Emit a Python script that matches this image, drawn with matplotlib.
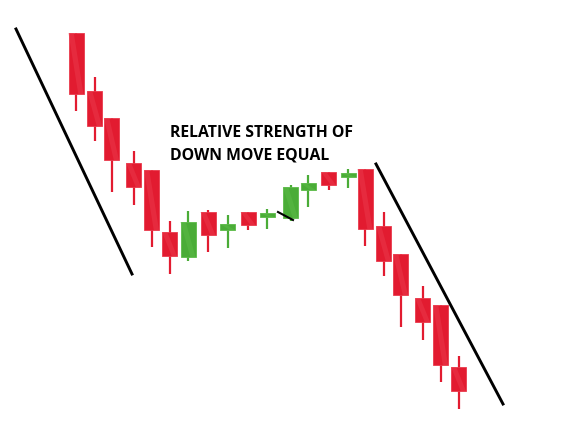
import matplotlib
matplotlib.use('Agg')
import matplotlib.pyplot as plt
from matplotlib.patches import Rectangle, Polygon

# candle data (time position, open, high, low, close)
t = [76, 94.5, 111.5, 133.5, 151.5, 169.5, 188, 208, 227.5, 248, 267,
     290.5, 308, 328.5, 348, 365, 383.5, 400.5, 422.5, 440.5, 458.5]
opens = [388, 330, 303, 258, 251, 189, 164, 209, 191, 209, 204,
         203, 231, 249, 244, 252, 195, 167, 123, 116, 54]
highs = [388, 344, 303, 270, 251, 200, 210, 211, 206, 209, 212,
         236, 246, 249, 252, 252, 209, 167, 135, 116, 65]
lows = [310, 280, 229, 216, 174, 147, 160, 169, 173, 191, 192,
        200, 214, 231, 233, 175, 145, 94, 81, 39, 12]
closes = [327, 295, 261, 234, 191, 165, 199, 186, 197, 196, 208,
          234, 238, 236, 248, 192, 160, 126, 99, 56, 30]

# trend lines
trend_left = ([16, 132], [392, 147])
trend_right = ([376, 503], [257, 17])
dash = ([278, 293], [209, 201])

red = '#e21b30'
red_light = '#ea3a4c'
green = '#4aac37'
green_light = '#5cbb48'

fig = plt.figure(figsize=(5.65, 4.21), dpi=100)
ax = fig.add_axes([0, 0, 1, 1])
ax.set_xlim(0, 565)
ax.set_ylim(0, 421)
ax.axis('off')

w = 15
for x, o, h, l, c in zip(t, opens, highs, lows, closes):
    up = c >= o
    col = green if up else red
    light = green_light if up else red_light
    ax.plot([x, x], [l, h], color=col, lw=1.6, solid_capstyle='butt', zorder=2)
    lo, hi = min(o, c), max(o, c)
    hgt = max(hi - lo, 3)
    ax.add_patch(Rectangle((x - w / 2, lo), w, hgt, facecolor=col,
                           edgecolor=light, lw=0.6, zorder=3))
    ax.add_patch(Polygon([(x - w / 2, lo + hgt), (x - w / 2 + w * 0.35, lo + hgt),
                          (x + w / 2, lo), (x + w / 2 - w * 0.35, lo)],
                         closed=True, facecolor=light, edgecolor='none',
                         alpha=0.5, zorder=3))

ax.plot(*trend_left, color='black', lw=2.1, zorder=4)
ax.plot(*trend_right, color='black', lw=2.1, zorder=4)
ax.plot(*dash, color='black', lw=1.5, zorder=4)

ax.text(170, 284, 'RELATIVE STRENGTH OF', fontsize=11.3, fontweight='bold',
        family='Open Sans', va='baseline', ha='left', color='black')
ax.text(170, 262, 'DOWN MOVE EQUAL', fontsize=11.3, fontweight='bold',
        family='Open Sans', va='baseline', ha='left', color='black')

fig.savefig('out.png', dpi=100)
